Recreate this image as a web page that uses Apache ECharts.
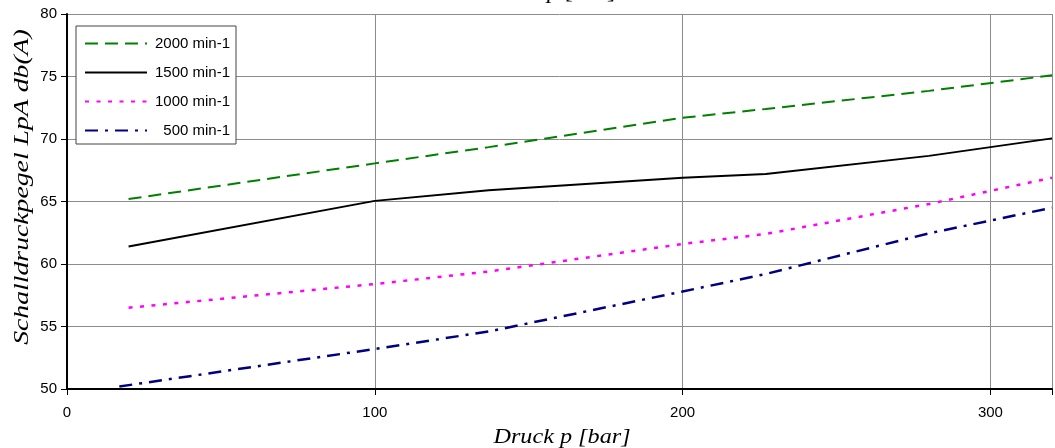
<!DOCTYPE html>
<html>
<head>
<meta charset="utf-8">
<script src="https://cdn.jsdelivr.net/npm/echarts@6/dist/echarts.min.js"></script>
<style>
html,body{margin:0;padding:0;background:#fff;}
#c{width:1055px;height:448px;}
</style>
</head>
<body>
<div id="c"></div>
<script>
// Data
const seriesNames = ['2000 min-1', '1500 min-1', '1000 min-1', '500 min-1'];
const p2000 = [20, 100, 137, 200, 227, 280, 320];
const v2000 = [65.2, 68.05, 69.35, 71.7, 72.4, 73.85, 75.1];
const p1500 = [20, 100, 137, 200, 227, 280, 320];
const v1500 = [61.4, 65.05, 65.9, 66.9, 67.2, 68.65, 70.05];
const p1000 = [20, 100, 137, 200, 227, 280, 320];
const v1000 = [56.5, 58.4, 59.4, 61.6, 62.4, 64.8, 66.9];
const p500 = [17, 100, 137, 200, 227, 280, 320];
const v500 = [50.2, 53.2, 54.6, 57.8, 59.2, 62.45, 64.5];
const xTicks = [0, 100, 200, 300];
const yTicks = [50, 55, 60, 65, 70, 75, 80];
const xTitle = 'Druck p [bar]';
const yTitle = 'Schalldruckpegel LpA db(A)';

const pairs = (xs, ys) => xs.map((x, i) => [x, ys[i]]);

const styles = [
  {color: '#008000', type: [13, 7], width: 2},
  {color: '#000000', type: 'solid', width: 2},
  {color: '#FF00FF', type: [4, 7.5], width: 2.5},
  {color: '#000080', type: [13, 7, 3, 7], width: 2.5}
];
const dataSets = [pairs(p2000, v2000), pairs(p1500, v1500), pairs(p1000, v1000), pairs(p500, v500)];

const chart = echarts.init(document.getElementById('c'), null, {renderer: 'canvas'});
chart.setOption({
  animation: false,
  backgroundColor: '#ffffff',
  grid: {left: 67, right: 0, top: 14, bottom: 59, containLabel: false},
  xAxis: {
    type: 'value', min: 0, max: 320, interval: 100,
    axisLine: {show: true, onZero: false, lineStyle: {color: '#000', width: 2}},
    axisTick: {show: true, length: 6, lineStyle: {color: '#000', width: 1}},
    axisLabel: {
      color: '#000', fontFamily: 'Liberation Sans, Arial', fontSize: 15, margin: 16,
      formatter: v => (xTicks.indexOf(v) >= 0 ? String(v) : '')
    },
    splitLine: {show: true, lineStyle: {color: '#8c8c8c', width: 1}}
  },
  yAxis: {
    type: 'value', min: 50, max: 80, interval: 5,
    axisLine: {show: true, lineStyle: {color: '#000', width: 2}},
    axisTick: {show: true, length: 6, lineStyle: {color: '#000', width: 1}},
    axisLabel: {
      color: '#000', fontFamily: 'Liberation Sans, Arial', fontSize: 15, margin: 10,
      formatter: v => (yTicks.indexOf(v) >= 0 ? String(v) : '')
    },
    splitLine: {show: true, lineStyle: {color: '#8c8c8c', width: 1}}
  },
  legend: {
    show: true,
    orient: 'vertical',
    left: 76, top: 26,
    padding: [10, 6, 6, 8],
    itemWidth: 62, itemHeight: 14, itemGap: 14,
    backgroundColor: '#ffffff',
    borderColor: '#444444', borderWidth: 1, borderRadius: 0,
    itemStyle: {opacity: 0},
    textStyle: {
      color: '#000', fontFamily: 'Liberation Sans, Arial', fontSize: 15,
      rich: {a: {width: 78, align: 'right', lineHeight: 16, fontFamily: 'Liberation Sans, Arial', fontSize: 15, color: '#000'}}
    },
    formatter: n => '{a|' + n + '}',
    data: seriesNames
  },
  series: seriesNames.map((n, i) => ({
    name: n, type: 'line', data: dataSets[i], symbol: 'none', showSymbol: false, smooth: false,
    lineStyle: styles[i], itemStyle: {color: styles[i].color}, z: 3
  })),
  graphic: [
    {type: 'text', x: 562, y: 437, scaleX: 1.1, style: {text: xTitle, font: 'italic 22px "Liberation Serif", "Times New Roman", serif', fill: '#000', textAlign: 'center', textVerticalAlign: 'middle'}},
    {type: 'text', x: 549, y: 3, scaleX: 1.1, style: {text: xTitle, font: 'italic 22px "Liberation Serif", "Times New Roman", serif', fill: '#000', textAlign: 'center', textVerticalAlign: 'bottom'}},
    {type: 'text', x: 22, y: 187, rotation: Math.PI / 2, scaleX: 1.26, style: {text: yTitle, font: 'italic 22px "Liberation Serif", "Times New Roman", serif', fill: '#000', textAlign: 'center', textVerticalAlign: 'middle'}}
  ]
});
</script>
</body>
</html>
